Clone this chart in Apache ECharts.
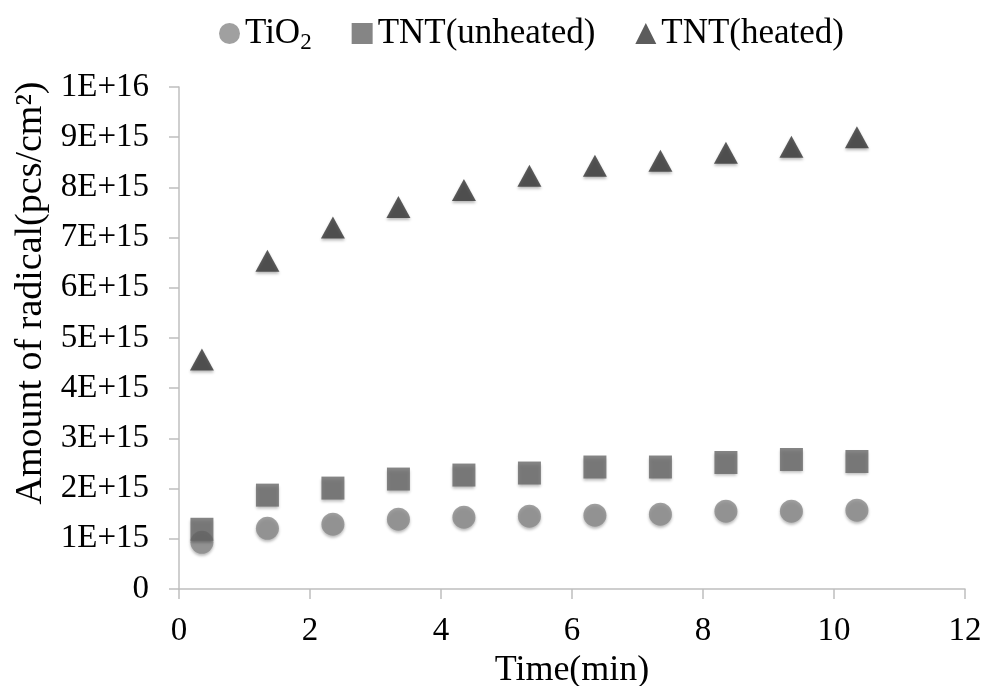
<!DOCTYPE html>
<html>
<head>
<meta charset="utf-8">
<style>
  html, body { margin: 0; padding: 0; background: #fff; }
  #chart { width: 983px; height: 686px; }
</style>
<script src="https://cdn.jsdelivr.net/npm/echarts@6/dist/echarts.min.js"></script>
</head>
<body>
<div id="chart"></div>
<script>
// 时间 (min)
const times = [0.35, 1.35, 2.35, 3.35, 4.35, 5.35, 6.35, 7.35, 8.35, 9.35, 10.35]
// 自由基数量 (pcs/cm2)
const tio2 = [0.93e15, 1.21e15, 1.29e15, 1.39e15, 1.43e15, 1.45e15, 1.47e15, 1.49e15, 1.55e15, 1.55e15, 1.57e15]
const tntUnheated = [1.19e15, 1.87e15, 2.01e15, 2.19e15, 2.27e15, 2.31e15, 2.43e15, 2.43e15, 2.52e15, 2.58e15, 2.54e15]
const tntHeated = [4.57e15, 6.54e15, 7.2e15, 7.61e15, 7.95e15, 8.23e15, 8.43e15, 8.53e15, 8.69e15, 8.81e15, 9.0e15]

const seriesNames = ['TiO2', 'TNT(unheated)', 'TNT(heated)']

const FONT = '"Liberation Serif", "DejaVu Serif", serif'
const pair = (xs, ys) => xs.map((x, i) => [x, ys[i]])

const chart = echarts.init(document.getElementById('chart'))

const markerShadow = {
  shadowBlur: 3,
  shadowOffsetY: 2,
  shadowColor: 'rgba(0,0,0,0.35)'
}

const axisGray = { color: '#bfbfbf', width: 1.5 }

const option = {
  animation: false,
  textStyle: { fontFamily: FONT },
  legend: {
    top: 11,
    left: 214,
    itemGap: 40,
    itemWidth: 21,
    itemHeight: 21,
    data: [
      { name: seriesNames[0], icon: 'circle' },
      { name: seriesNames[1], icon: 'rect' },
      { name: seriesNames[2], icon: 'triangle' }
    ],
    formatter: name => name === 'TiO2' ? '{a|TiO}{sub|2}' : '{a|' + name + '}',
    textStyle: {
      fontFamily: FONT,
      color: '#000',
      rich: {
        a: { fontFamily: FONT, fontSize: 35, color: '#000' },
        sub: { fontFamily: FONT, fontSize: 23, color: '#000', padding: [18, 0, 0, 0] }
      }
    }
  },
  grid: {
    left: 179,
    right: 18,
    top: 87,
    bottom: 97,
    outerBoundsMode: 'none'
  },
  xAxis: {
    type: 'value',
    min: 0,
    max: 12,
    interval: 2,
    name: 'Time(min)',
    nameLocation: 'middle',
    nameGap: 62,
    nameTextStyle: { fontFamily: FONT, fontSize: 36, color: '#000' },
    axisLine: { show: true, lineStyle: axisGray },
    axisTick: { show: true, length: 10, lineStyle: axisGray },
    axisLabel: { fontFamily: FONT, fontSize: 33, color: '#000', margin: 26 },
    splitLine: { show: false }
  },
  yAxis: {
    type: 'value',
    min: 0,
    max: 1e16,
    interval: 1e15,
    name: 'Amount of radical(pcs/cm\u00B2)',
    nameLocation: 'middle',
    nameGap: 128,
    nameTextStyle: {
      fontFamily: FONT,
      fontSize: 38,
      color: '#000',
      padding: [0, 0, 0, 90]
    },
    axisLine: { show: true, lineStyle: axisGray },
    axisTick: { show: true, length: 10, lineStyle: axisGray },
    axisLabel: {
      fontFamily: FONT,
      fontSize: 33,
      color: '#000',
      margin: 30,
      formatter: v => v === 0 ? '0' : v.toExponential(0).toUpperCase()
    },
    splitLine: { show: false }
  },
  series: [
    {
      name: seriesNames[0],
      type: 'scatter',
      symbol: 'circle',
      symbolSize: 23,
      itemStyle: Object.assign({ color: '#888888' }, markerShadow),
      data: pair(times, tio2)
    },
    {
      name: seriesNames[1],
      type: 'scatter',
      symbol: 'rect',
      symbolSize: 23,
      itemStyle: Object.assign({ color: '#666666' }, markerShadow),
      data: pair(times, tntUnheated)
    },
    {
      name: seriesNames[2],
      type: 'scatter',
      symbol: 'triangle',
      symbolSize: [24, 22],
      itemStyle: Object.assign({ color: '#333333' }, markerShadow),
      data: pair(times, tntHeated)
    }
  ]
}

chart.setOption(option)
</script>
</body>
</html>
